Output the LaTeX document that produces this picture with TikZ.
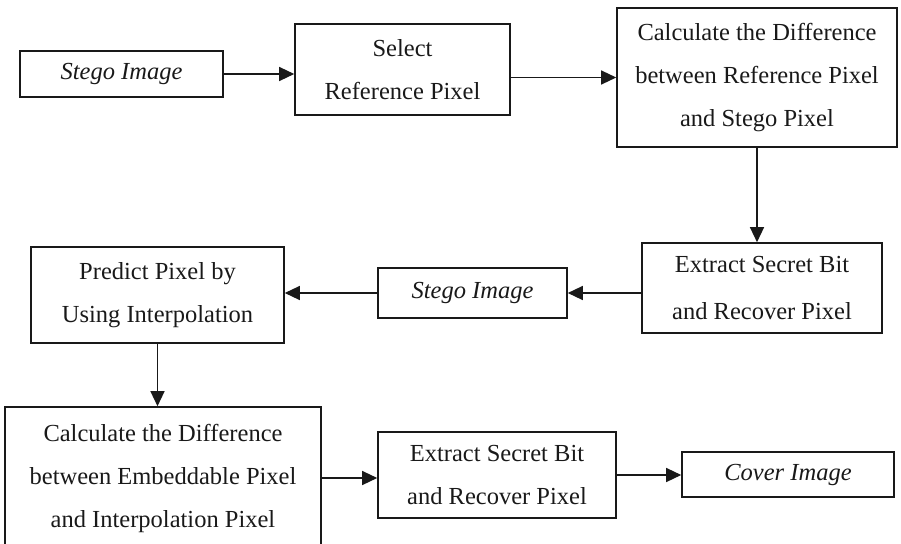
\documentclass[tikz,border=0pt]{standalone}
\usepackage{fontspec}
\setmainfont{Liberation Serif}
\usetikzlibrary{arrows.meta}
\begin{document}
\begin{tikzpicture}[x=1pt,y=-1pt,
  box/.style={draw=black!90,line width=1.6pt,inner sep=0pt,align=center,
    font=\fontsize{24.5}{43}\selectfont,text=black!90},
  arr/.style={line width=1.3pt,draw=black!90,-{Triangle[length=15pt,width=14pt]}}]
\useasboundingbox (0,0) rectangle (901,543);
\node[box,minimum width=203pt,minimum height=46pt] (b1) at (121.5,74) {\itshape Stego Image};
\node[box,minimum width=215pt,minimum height=91pt] (b2) at (402.5,69.5) {Select\\Reference Pixel};
\node[box,minimum width=280pt,minimum height=139pt] (b3) at (757,77.5) {Calculate the Difference\\between Reference Pixel\\and Stego Pixel};
\node[box,minimum width=240pt,minimum height=90pt,font=\fontsize{24.5}{47}\selectfont] (b4) at (762,288) {Extract Secret Bit\\and Recover Pixel};
\node[box,minimum width=189pt,minimum height=50pt] (b5) at (472.5,293) {\itshape Stego Image};
\node[box,minimum width=253pt,minimum height=96pt] (b6) at (157.5,295) {Predict Pixel by\\Using Interpolation};
\node[box,minimum width=316pt,minimum height=142pt] (b7) at (163,478) {Calculate the Difference\\between Embeddable Pixel\\and Interpolation Pixel};
\node[box,minimum width=238pt,minimum height=86pt] (b8) at (497,475) {Extract Secret Bit\\and Recover Pixel};
\node[box,minimum width=212pt,minimum height=45pt] (b9) at (788,474.5) {\itshape Cover Image};
\draw[arr] (b1.east) -- (b1.east -| b2.west);
\draw[arr] (b2.east |- b3.west) -- (b3.west);
\draw[arr] (b3.south) -- (b3.south |- b4.north);
\draw[arr] (b4.west |- b5.east) -- (b5.east);
\draw[arr] (b5.west) -- (b5.west -| b6.east);
\draw[arr] (b6.south) -- (b6.south |- b7.north);
\draw[arr] (b7.east) -- (b7.east -| b8.west);
\draw[arr] (b8.east) -- (b8.east -| b9.west);
\end{tikzpicture}
\end{document}
